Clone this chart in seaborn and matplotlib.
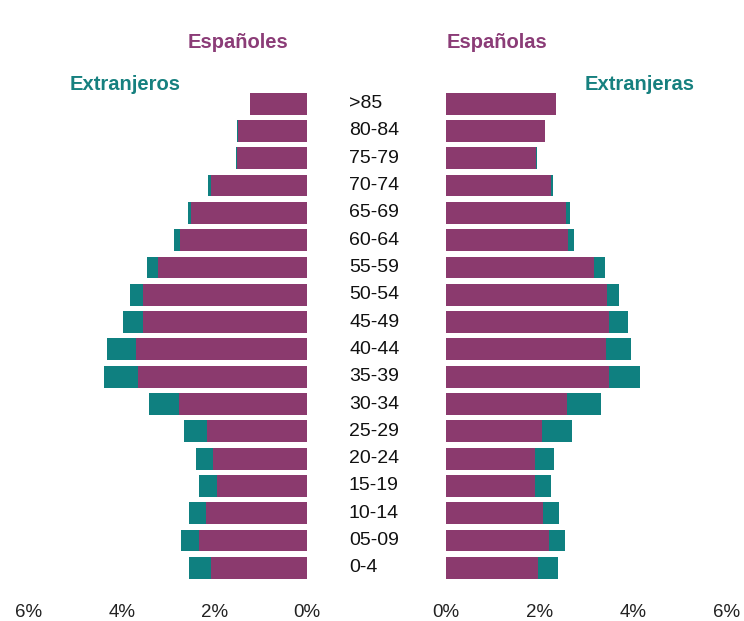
import matplotlib
matplotlib.use("Agg")
import matplotlib.pyplot as plt
import matplotlib.transforms as mtransforms
import seaborn as sns
import pandas as pd

# age groups, oldest on top
ages = [">85", "80-84", "75-79", "70-74", "65-69", "60-64", "55-59", "50-54", "45-49",
        "40-44", "35-39", "30-34", "25-29", "20-24", "15-19", "10-14", "05-09", "0-4"]

# % of population
men_total = [1.22, 1.51, 1.54, 2.14, 2.57, 2.87, 3.45, 3.83, 3.98,
             4.32, 4.38, 3.40, 2.66, 2.40, 2.33, 2.54, 2.73, 2.54]
men_foreign = [0.0, 0.02, 0.02, 0.06, 0.06, 0.12, 0.23, 0.30, 0.45,
               0.63, 0.74, 0.63, 0.50, 0.38, 0.38, 0.35, 0.40, 0.46]
women_total = [2.34, 2.11, 1.94, 2.29, 2.65, 2.73, 3.39, 3.70, 3.89,
               3.96, 4.14, 3.31, 2.68, 2.31, 2.25, 2.41, 2.55, 2.39]
women_foreign = [0.0, 0.0, 0.02, 0.04, 0.09, 0.12, 0.23, 0.27, 0.42,
                 0.54, 0.67, 0.72, 0.64, 0.42, 0.36, 0.33, 0.36, 0.42]

xticks = [0, 2, 4, 6]

purple = "#8B3A6E"
teal = "#0F8080"

df = pd.DataFrame({"age": ages, "men_total": men_total, "women_total": women_total})
df["men_spanish"] = df["men_total"] - pd.Series(men_foreign)
df["women_spanish"] = df["women_total"] - pd.Series(women_foreign)

sns.set_theme(style="white")
plt.rcParams["font.family"] = ["Liberation Sans", "DejaVu Sans"]

W, H = 744, 621
fig = plt.figure(figsize=(W / 100, H / 100), dpi=100)
ax_l = fig.add_axes([29 / W, 1 - 581.5 / H, 278 / W, 491.5 / H])
ax_r = fig.add_axes([446 / W, 1 - 581.5 / H, 281 / W, 491.5 / H])

for ax, tot, spa in [(ax_l, "men_total", "men_spanish"), (ax_r, "women_total", "women_spanish")]:
    sns.barplot(data=df, x=tot, y="age", orient="h", color=teal, width=0.8,
                linewidth=0, saturation=1, ax=ax)
    sns.barplot(data=df, x=spa, y="age", orient="h", color=purple, width=0.8,
                linewidth=0, saturation=1, ax=ax)
    ax.set_xticks(xticks)
    ax.set_xticklabels([f"{t}%" for t in xticks], fontsize=13.5, color="#222222")
    ax.tick_params(axis="x", length=0, pad=16)
    ax.set_yticks([])
    ax.set_xlabel("")
    ax.set_ylabel("")
    ax.set_ylim(len(ages) - 0.5, -0.5)
    sns.despine(ax=ax, left=True, bottom=True)

ax_l.set_xlim(6, 0)
ax_r.set_xlim(0, 6)

# age labels in the middle, left aligned
trans = mtransforms.blended_transform_factory(fig.transFigure, ax_l.transData)
for i, a in enumerate(ages):
    ax_l.text(349 / W, i, a, transform=trans, ha="left", va="center",
              fontsize=14, color="#111111", clip_on=False)

fig.text(238 / W, 1 - 42 / H, "Españoles", ha="center", va="center",
         fontsize=14.5, fontweight="bold", color="#8B3C77")
fig.text(497 / W, 1 - 42 / H, "Españolas", ha="center", va="center",
         fontsize=14.5, fontweight="bold", color="#8B3C77")
fig.text(125 / W, 1 - 84 / H, "Extranjeros", ha="center", va="center",
         fontsize=14.5, fontweight="bold", color="#16807F")
fig.text(640 / W, 1 - 84 / H, "Extranjeras", ha="center", va="center",
         fontsize=14.5, fontweight="bold", color="#16807F")

fig.savefig("out.png", dpi=100)
